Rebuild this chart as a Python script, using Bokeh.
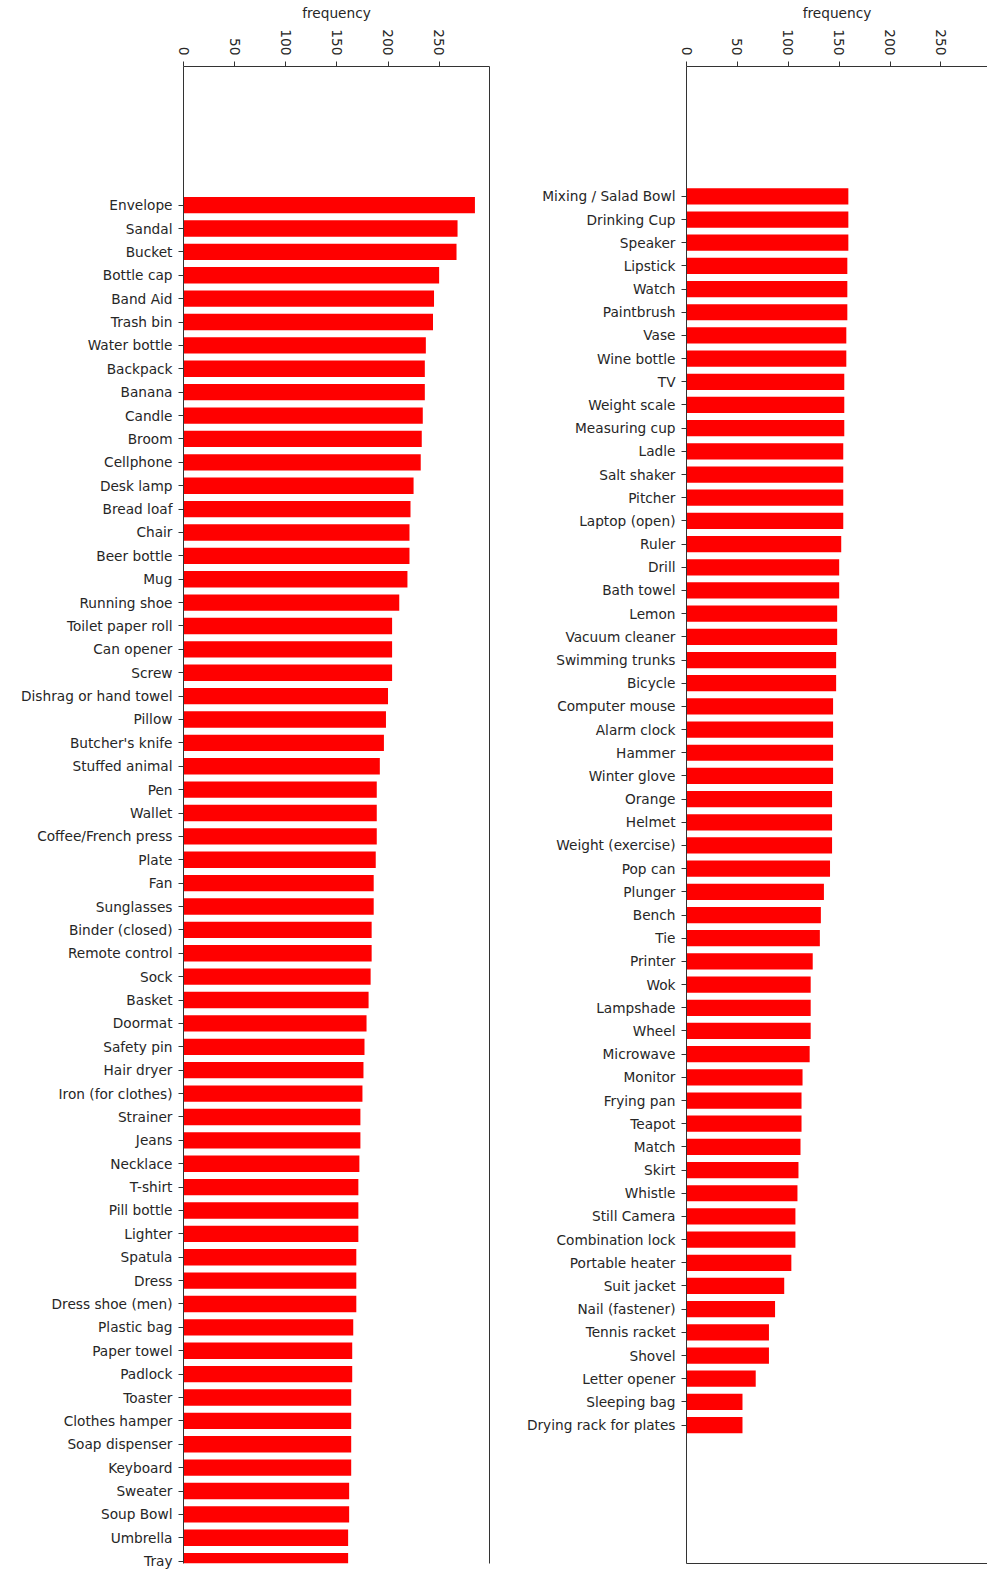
import math
from bokeh.plotting import figure
from bokeh.models import Range1d, LinearAxis, FixedTicker, ColumnDataSource
from bokeh.layouts import row
from bokeh.embed import file_html
from bokeh.resources import INLINE

left_labels = [
    "Envelope", "Sandal", "Bucket", "Bottle cap", "Band Aid", "Trash bin",
    "Water bottle", "Backpack", "Banana", "Candle", "Broom", "Cellphone",
    "Desk lamp", "Bread loaf", "Chair", "Beer bottle", "Mug", "Running shoe",
    "Toilet paper roll", "Can opener", "Screw", "Dishrag or hand towel",
    "Pillow", "Butcher's knife", "Stuffed animal", "Pen", "Wallet",
    "Coffee/French press", "Plate", "Fan", "Sunglasses", "Binder (closed)",
    "Remote control", "Sock", "Basket", "Doormat", "Safety pin", "Hair dryer",
    "Iron (for clothes)", "Strainer", "Jeans", "Necklace", "T-shirt",
    "Pill bottle", "Lighter", "Spatula", "Dress", "Dress shoe (men)",
    "Plastic bag", "Paper towel", "Padlock", "Toaster", "Clothes hamper",
    "Soap dispenser", "Keyboard", "Sweater", "Soup Bowl", "Umbrella", "Tray",
]
left_values = [
    285, 268, 267, 250, 245, 244, 237, 236, 236, 234, 233, 232,
    225, 222, 221, 221, 219, 211, 204, 204, 204, 200, 198, 196,
    192, 189, 189, 189, 188, 186, 186, 184, 184, 183, 181, 179,
    177, 176, 175, 173, 173, 172, 171, 171, 171, 169, 169, 169,
    166, 165, 165, 164, 164, 164, 164, 162, 162, 161, 161,
]

right_labels = [
    "Mixing / Salad Bowl", "Drinking Cup", "Speaker", "Lipstick", "Watch",
    "Paintbrush", "Vase", "Wine bottle", "TV", "Weight scale",
    "Measuring cup", "Ladle", "Salt shaker", "Pitcher", "Laptop (open)",
    "Ruler", "Drill", "Bath towel", "Lemon", "Vacuum cleaner",
    "Swimming trunks", "Bicycle", "Computer mouse", "Alarm clock", "Hammer",
    "Winter glove", "Orange", "Helmet", "Weight (exercise)", "Pop can",
    "Plunger", "Bench", "Tie", "Printer", "Wok", "Lampshade", "Wheel",
    "Microwave", "Monitor", "Frying pan", "Teapot", "Match", "Skirt",
    "Whistle", "Still Camera", "Combination lock", "Portable heater",
    "Suit jacket", "Nail (fastener)", "Tennis racket", "Shovel",
    "Letter opener", "Sleeping bag", "Drying rack for plates",
]
right_values = [
    159, 159, 159, 158, 158, 158, 157, 157, 155, 155, 155, 154, 154, 154,
    154, 152, 150, 150, 148, 148, 147, 147, 144, 144, 144, 144, 143, 143,
    143, 141, 135, 132, 131, 124, 122, 122, 122, 121, 114, 113, 113, 112,
    110, 109, 107, 107, 103, 96, 87, 81, 81, 68, 55, 55,
]

x_ticks = [0, 50, 100, 150, 200, 250]
x_label = "frequency"

FONT = "DejaVu Sans"
FS = "13.7px"
TEXT = "#262626"
LINE = "#333333"


def style_axis(ax):
    ax.axis_line_color = LINE
    ax.axis_line_width = 1
    ax.major_tick_line_color = LINE
    ax.major_tick_line_width = 1
    ax.major_tick_out = 5
    ax.major_tick_in = 0
    ax.minor_tick_line_color = None
    ax.major_label_text_font = FONT
    ax.major_label_text_font_size = FS
    ax.major_label_text_color = TEXT
    ax.axis_label_text_font = FONT
    ax.axis_label_text_font_size = FS
    ax.axis_label_text_font_style = "normal"
    ax.axis_label_text_color = TEXT


def border_axis():
    ax = LinearAxis(ticker=FixedTicker(ticks=[]))
    ax.axis_line_color = LINE
    ax.axis_line_width = 1
    ax.major_tick_line_color = None
    ax.minor_tick_line_color = None
    ax.major_tick_out = 0
    ax.major_tick_in = 0
    ax.minor_tick_out = 0
    ax.minor_tick_in = 0
    ax.major_label_standoff = 0
    ax.axis_label_standoff = 0
    ax.major_label_text_font_size = "0px"
    return ax


def make_panel(labels, values, width, height, xmax, ytop, ybottom,
               min_left, min_right, min_bottom, extra_sides):
    p = figure(width=width, height=height, output_backend="svg",
               toolbar_location=None, tools="",
               x_range=Range1d(0, xmax), y_range=Range1d(ybottom, ytop),
               x_axis_location="above",
               min_border_left=min_left, min_border_right=min_right,
               min_border_top=66, min_border_bottom=min_bottom)
    p.outline_line_color = None
    p.grid.visible = False
    p.background_fill_color = "white"
    p.border_fill_color = "white"

    idx = list(range(len(labels)))
    src = ColumnDataSource(dict(y=idx, v=values))
    p.hbar(y="y", left=0, right="v", height=0.7, source=src,
           fill_color="#ff0000", line_color=None)

    xa = p.xaxis[0]
    style_axis(xa)
    xa.ticker = FixedTicker(ticks=x_ticks)
    xa.major_label_orientation = -math.pi / 2
    xa.major_label_standoff = 6
    xa.axis_label = x_label
    xa.axis_label_standoff = 5

    ya = p.yaxis[0]
    style_axis(ya)
    ya.ticker = FixedTicker(ticks=idx)
    ya.major_label_overrides = {i: lab for i, lab in zip(idx, labels)}
    ya.major_label_standoff = 6

    for side in extra_sides:
        p.add_layout(border_axis(), side)
    return p


p1 = make_panel(left_labels, left_values, width=500, height=1572,
                xmax=299.25, ytop=-5.93, ybottom=58.1,
                min_left=183, min_right=11, min_bottom=0,
                extra_sides=["right"])
p2 = make_panel(right_labels, right_values, width=487, height=1572,
                xmax=295.7, ytop=-5.60, ybottom=58.97,
                min_left=186, min_right=0, min_bottom=9,
                extra_sides=["below"])

layout = row(p1, p2)
open("out.html", "w").write(file_html(layout, INLINE))
